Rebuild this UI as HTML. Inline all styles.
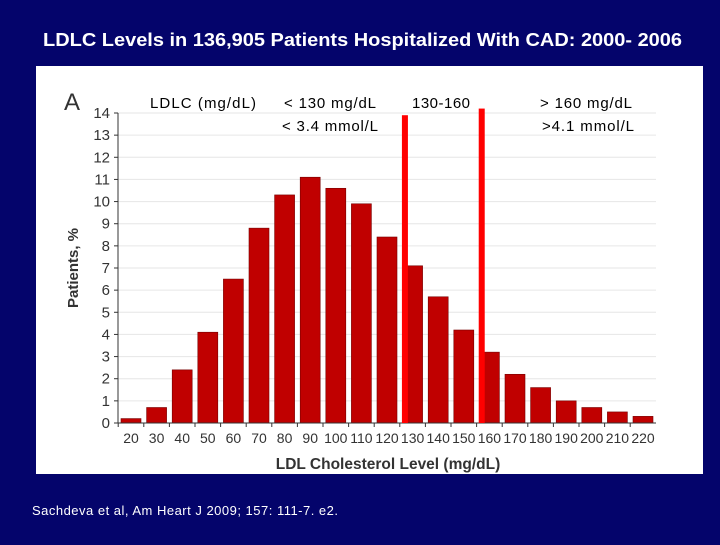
<!DOCTYPE html>
<html><head><meta charset="utf-8"><style>
body{margin:0;background:#04046b;width:720px;height:540px;overflow:hidden;font-family:"Liberation Sans",sans-serif}
</style></head><body>
<svg width="720" height="540" xmlns="http://www.w3.org/2000/svg">
<rect width="720" height="540" fill="#04046b"/>
<text x="43" y="46" fill="#fff" font-size="18" font-weight="bold" textLength="639" lengthAdjust="spacingAndGlyphs">LDLC Levels in 136,905 Patients Hospitalized With CAD: 2000- 2006</text>
<rect x="36" y="66" width="667" height="408" fill="#fff"/>
<g id="chart"></g>
<text x="64" y="110" font-size="24" fill="#333">A</text>
<text x="150" y="108" font-size="15" fill="#000" textLength="106">LDLC (mg/dL)</text>
<text x="284" y="108" font-size="15" fill="#000" textLength="92">&lt; 130 mg/dL</text>
<text x="282" y="131" font-size="15" fill="#000" textLength="96">&lt; 3.4 mmol/L</text>
<text x="412" y="108" font-size="15" fill="#000" textLength="58">130-160</text>
<text x="540" y="108" font-size="15" fill="#000" textLength="92">&gt; 160 mg/dL</text>
<text x="542" y="131" font-size="15" fill="#000" textLength="92">&gt;4.1 mmol/L</text>
<text x="78" y="268" font-size="15" font-weight="bold" fill="#333" text-anchor="middle" transform="rotate(-90 78 268)">Patients, %</text>
<text x="388" y="469" font-size="15.5" font-weight="bold" fill="#333" text-anchor="middle">LDL Cholesterol Level (mg/dL)</text>
<text x="32" y="515" font-size="13" fill="#fff" textLength="306">Sachdeva et al, Am Heart J 2009; 157: 111-7. e2.</text>
</svg>
<script>
const categories=[20,30,40,50,60,70,80,90,100,110,120,130,140,150,160,170,180,190,200,210,220];
const values=[0.2,0.7,2.4,4.1,6.5,8.8,10.3,11.1,10.6,9.9,8.4,7.1,5.7,4.2,3.2,2.2,1.6,1.0,0.7,0.5,0.3];
const yTicks=[0,1,2,3,4,5,6,7,8,9,10,11,12,13,14];
const cutoffs=[127,157];
const cutoffTops=[13.9,14.2];
const NS="http://www.w3.org/2000/svg";
const g=document.getElementById('chart');
const y0=423,y1=113,yMax=14;
const ys=v=>y0-(v/yMax)*(y0-y1);
const xs=c=>131+(c-20)/10*25.6;
function mk(t,a){const e=document.createElementNS(NS,t);for(const k in a)e.setAttribute(k,a[k]);g.appendChild(e);return e;}
yTicks.forEach(t=>{
 const l=mk('line',{x1:118,x2:656,y1:ys(t),y2:ys(t),stroke:'#e6e6e6','stroke-width':1});
 
 
 const tk=mk('line',{x1:114,x2:118,y1:ys(t),y2:ys(t),stroke:'#333'});
 
 
 const tx=mk('text',{x:110,y:ys(t)+5,'font-size':15,fill:'#333','text-anchor':'end'});
 tx.textContent=t;
 
 
});
categories.forEach((c,i)=>{
 const b=mk('rect',{x:xs(c)-10,y:ys(values[i]),width:20,height:y0-ys(values[i]),fill:'#c00000',stroke:'#700','stroke-width':0.6});
 
 
 const tx=mk('text',{x:xs(c),y:443,'font-size':14,fill:'#333','text-anchor':'middle'});
 tx.textContent=c;
 
 
 const tk=mk('line',{x1:xs(c)-12.8,x2:xs(c)-12.8,y1:y0,y2:y0+4,stroke:'#333'});
 
 
});
const ya=mk('line',{x1:118,x2:118,y1:y1,y2:y0,stroke:'#333'});


const xa=mk('line',{x1:118,x2:656,y1:y0,y2:y0,stroke:'#333'});


cutoffs.forEach((c,i)=>{
 const r=mk('rect',{x:xs(c)-3,y:ys(cutoffTops[i]),width:6,height:y0-ys(cutoffTops[i]),fill:'#ff0000'});
 
 
});
</script>
</body></html>
